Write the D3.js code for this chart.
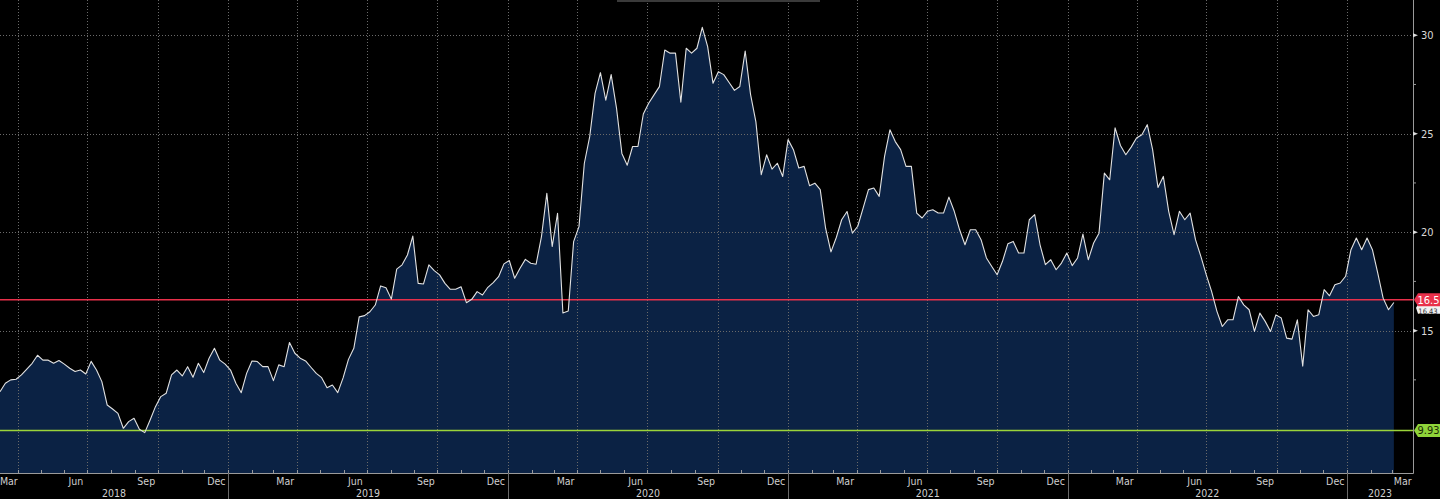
<!DOCTYPE html>
<html><head><meta charset="utf-8">
<script src="https://cdn.jsdelivr.net/npm/d3@7"></script>
<style>html,body{margin:0;padding:0;background:#000;overflow:hidden}</style>
</head>
<body>
<svg id="chart" width="1440" height="499"></svg>
<script>
// ---- data ----
const startDate = "2018-03-09";   // first weekly observation
const domainEnd = "2023-03-28";   // right edge of the time axis
const values = [
  11.90,12.33,12.50,12.53,12.75,13.05,13.34,13.75,13.50,13.50,
  13.34,13.48,13.30,13.09,12.92,13.00,12.80,13.44,13.00,12.41,
  11.22,11.02,10.80,10.04,10.38,10.55,9.99,9.82,10.46,11.14,
  11.65,11.82,12.75,13.00,12.70,13.17,12.63,13.34,12.87,13.60,
  14.10,13.50,13.30,13.00,12.33,11.85,12.83,13.46,13.43,13.17,
  13.17,12.46,13.26,13.17,14.40,13.85,13.60,13.46,13.14,12.83,
  12.61,12.10,12.24,11.85,12.60,13.54,14.10,15.70,15.76,15.96,
  16.30,17.27,17.18,16.60,18.12,18.34,18.84,19.80,17.40,17.37,
  18.34,18.05,17.83,17.40,17.10,17.10,17.23,16.42,16.59,16.98,
  16.81,17.20,17.44,17.74,18.39,18.56,17.66,18.17,18.62,18.42,
  18.37,19.77,21.97,19.27,20.96,15.90,16.00,19.52,20.28,23.50,
  24.85,27.05,28.10,26.70,28.00,26.30,24.00,23.40,24.35,24.35,
  26.00,26.55,26.97,27.39,29.25,29.09,29.09,26.60,29.34,29.09,
  29.34,30.40,29.42,27.56,28.15,28.00,27.60,27.20,27.40,29.20,
  27.00,25.60,22.92,23.93,23.20,23.50,22.83,24.70,24.19,23.26,
  23.34,22.36,22.49,22.16,20.20,19.00,19.73,20.63,21.05,19.95,
  20.30,21.22,22.16,22.24,21.82,23.85,25.20,24.60,24.19,23.34,
  23.34,20.97,20.72,21.06,21.14,20.97,20.97,21.78,21.06,20.12,
  19.36,20.12,20.12,19.62,18.69,18.26,17.84,18.52,19.41,19.53,
  18.94,18.94,20.63,20.89,19.36,18.35,18.60,18.09,18.43,18.94,
  18.30,18.69,19.90,18.60,19.45,19.95,23.00,22.66,25.30,24.40,
  23.93,24.32,24.78,24.95,25.46,24.19,22.27,22.83,21.06,19.87,
  21.06,20.63,20.97,19.62,18.77,17.84,16.99,15.98,15.21,15.55,
  15.55,16.73,16.31,16.06,14.96,15.89,15.47,14.96,15.80,15.64,
  14.62,14.57,15.55,13.20,16.06,15.72,15.81,17.08,16.77,17.33,
  17.42,17.76,19.11,19.70,19.11,19.70,19.11,17.92,16.65,16.06,
  16.43
];
const yDomain = [7.77, 31.79];
const yMajorTicks = [15, 20, 25, 30];
const yMinorTicks = [12.5, 17.5, 22.5, 27.5];
const monthLabelNames = ["Jan","Feb","Mar","Apr","May","Jun","Jul","Aug","Sep","Oct","Nov","Dec"];
const labelledMonths = [2, 5, 8, 11]; // Mar, Jun, Sep, Dec
const refHigh = { value: 16.57, label: "16.5" };
const refLow  = { value: 9.93,  label: "9.93" };
const lastLabel = "16.43";

// ---- layout ----
const W = 1440, H = 499;
const plotRight = 1413, plotBottom = 473;
const svg = d3.select("#chart");
const fontFam = "'Liberation Sans Narrow','DejaVu Sans Condensed','Arial Narrow',Roboto,'Liberation Sans',sans-serif";

svg.append("rect").attr("width", W).attr("height", H).attr("fill", "#000");

const t0 = new Date(startDate + "T00:00:00Z");
const t1 = new Date(domainEnd + "T00:00:00Z");
const x = d3.scaleUtc().domain([t0, t1]).range([0, plotRight]);
const y = d3.scaleLinear().domain(yDomain).range([plotBottom, 0]);

const data = values.map((v, i) => ({ date: d3.utcDay.offset(t0, 7 * i), value: v }));

// area
const area = d3.area().x(d => x(d.date)).y0(plotBottom).y1(d => y(d.value));
svg.append("path").datum(data).attr("d", area).attr("fill", "#0b2244");

// gridlines
const grid = svg.append("g").attr("stroke", "#6a6a6a").attr("stroke-width", 1)
  .attr("stroke-dasharray", "1,2").attr("fill", "none");
yMajorTicks.forEach(v => {
  grid.append("line").attr("x1", 0).attr("x2", plotRight)
    .attr("y1", Math.round(y(v)) + 0.5).attr("y2", Math.round(y(v)) + 0.5);
});
const quarterStarts = d3.utcMonth.range(t0, t1).filter(d => d.getUTCMonth() % 3 === 0);
quarterStarts.forEach(d => {
  const xx = Math.round(x(d)) + 0.5;
  grid.append("line").attr("x1", xx).attr("x2", xx).attr("y1", 0).attr("y2", plotBottom);
});

// top scrollbar-like bar
svg.append("rect").attr("x", 617).attr("y", 0).attr("width", 203).attr("height", 2).attr("fill", "#3a3a3a");

// reference lines
svg.append("line").attr("x1", 0).attr("x2", plotRight)
  .attr("y1", y(refLow.value)).attr("y2", y(refLow.value))
  .attr("stroke", "#9bd43a").attr("stroke-width", 1.6);
svg.append("line").attr("x1", 0).attr("x2", plotRight)
  .attr("y1", y(refHigh.value)).attr("y2", y(refHigh.value))
  .attr("stroke", "#e8304a").attr("stroke-width", 1.6);

// price line
const line = d3.line().x(d => x(d.date)).y(d => y(d.value));
svg.append("path").datum(data).attr("d", line).attr("fill", "none")
  .attr("stroke", "#e2e2e2").attr("stroke-width", 1.1).attr("stroke-linejoin", "round");

// axes lines
svg.append("line").attr("x1", 0).attr("x2", plotRight + 0.5).attr("y1", plotBottom + 0.5).attr("y2", plotBottom + 0.5)
  .attr("stroke", "#9a9a9a").attr("stroke-width", 1);
svg.append("line").attr("x1", plotRight + 0.5).attr("x2", plotRight + 0.5).attr("y1", 0).attr("y2", plotBottom + 0.5)
  .attr("stroke", "#9a9a9a").attr("stroke-width", 1);

// right axis ticks & labels
yMajorTicks.forEach(v => {
  const yy = y(v);
  svg.append("path").attr("d", `M${plotRight},${yy - 2}L${plotRight + 5},${yy}L${plotRight},${yy + 2}Z`).attr("fill", "#ddd");
  svg.append("text").attr("x", 1421).attr("y", yy + 4).text(v)
    .attr("fill", "#d8d8d8").attr("font-size", 11).attr("font-family", fontFam);
});
yMinorTicks.forEach(v => {
  svg.append("line").attr("x1", plotRight).attr("x2", plotRight + 3).attr("y1", y(v)).attr("y2", y(v))
    .attr("stroke", "#9a9a9a");
});

// bottom month ticks
d3.utcMonth.range(t0, t1).forEach(d => {
  const xx = Math.round(x(d)) + 0.5;
  svg.append("line").attr("x1", xx).attr("x2", xx).attr("y1", plotBottom).attr("y2", plotBottom - 3)
    .attr("stroke", "#9a9a9a");
});
// month labels
d3.utcMonth.range(d3.utcMonth.floor(t0), t1).filter(d => labelledMonths.includes(d.getUTCMonth())).forEach(d => {
  const a = Math.max(x(d), 0), b = Math.min(x(d3.utcMonth.offset(d, 1)), plotRight);
  svg.append("text").attr("x", (a + b) / 2).attr("y", 485).attr("text-anchor", "middle")
    .text(monthLabelNames[d.getUTCMonth()])
    .attr("fill", "#cfcfcf").attr("font-size", 10.5).attr("font-family", fontFam);
});
// year separators & labels
const yearStarts = d3.utcYear.range(d3.utcYear.floor(t0), t1);
yearStarts.forEach(d => {
  const xs = x(d);
  if (xs > 0) {
    svg.append("line").attr("x1", Math.round(xs) + 0.5).attr("x2", Math.round(xs) + 0.5)
      .attr("y1", plotBottom).attr("y2", H).attr("stroke", "#6a6a6a");
  }
  const a = Math.max(xs, 0), b = Math.min(x(d3.utcYear.offset(d, 1)), plotRight);
  svg.append("text").attr("x", (a + b) / 2).attr("y", 497).attr("text-anchor", "middle")
    .text(d.getUTCFullYear())
    .attr("fill", "#cfcfcf").attr("font-size", 10.5).attr("font-family", fontFam);
});

// last value label (mostly hidden below the red reference label)
const yr = y(refHigh.value);
svg.append("path").attr("d", `M${plotRight + 3},${yr + 8}L${plotRight + 5},${yr + 5}H1440V${yr + 14}H${plotRight + 5}Z`).attr("fill", "#f2f2f2");
svg.append("text").attr("x", 1428).attr("y", yr + 14).attr("text-anchor", "middle").text(lastLabel)
  .attr("fill", "#333").attr("font-size", 7.5).attr("font-family", fontFam);

// reference labels
function refLabel(ref, bg, fg) {
  const yy = y(ref.value);
  svg.append("path").attr("d", `M${plotRight + 1},${yy}L${plotRight + 5},${yy - 6.5}H1440V${yy + 6.5}H${plotRight + 5}Z`).attr("fill", bg);
  svg.append("text").attr("x", 1428.5).attr("y", yy + 4).attr("text-anchor", "middle").text(ref.label)
    .attr("fill", fg).attr("font-size", 11).attr("font-family", fontFam);
}
refLabel(refHigh, "#e8304a", "#ffffff");
refLabel(refLow, "#8fd43a", "#1b2a05");
</script>
</body></html>
